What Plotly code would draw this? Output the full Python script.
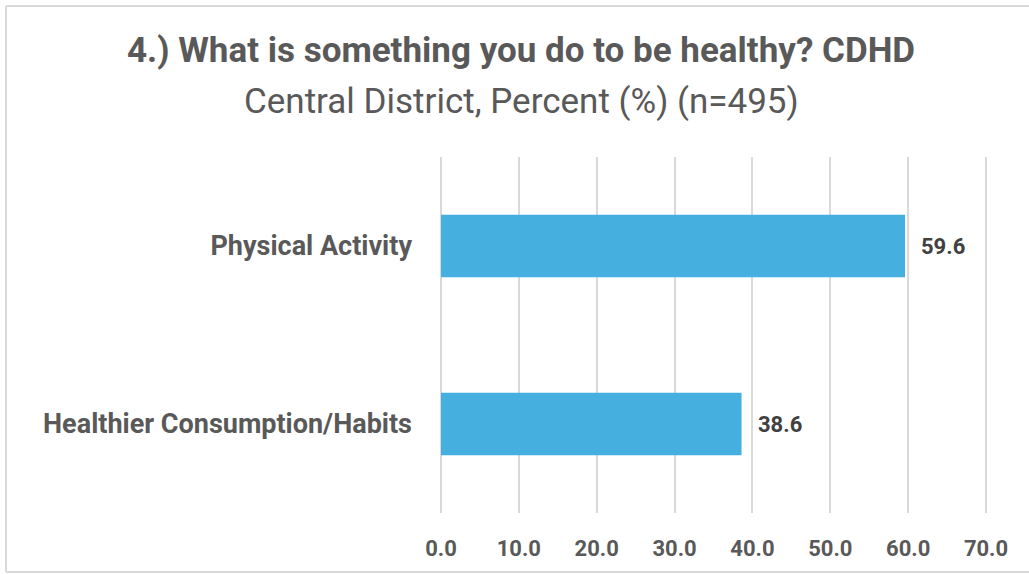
import plotly.graph_objects as go

categories = ["Physical Activity", "Healthier Consumption/Habits"]
values = [59.6, 38.6]
tick_vals = [0, 10, 20, 30, 40, 50, 60, 70]
tick_text = ["0.0", "10.0", "20.0", "30.0", "40.0", "50.0", "60.0", "70.0"]
title_text = "4.) What is something you do to be healthy? CDHD"
subtitle_text = "Central District, Percent (%) (n=495)"

W, H = 1029, 574
L, R, T, B = 441, 41, 157, 61
pw, ph = W - L - R, H - T - B
X_MAX = 70 + 2 / (545 / 70)

TXT = "#595959"
BORDER = "#d9d9d9"

fig = go.Figure(go.Bar(
    y=categories, x=values, orientation="h",
    marker=dict(color="#45AFE0", line=dict(width=0)),
    width=0.35,
    cliponaxis=False,
))

label_annots = [
    dict(x=v, y=c, xref="x", yref="y", text=f"{v:.1f}", showarrow=False,
         xanchor="left", yanchor="middle", xshift=14,
         font=dict(family="Roboto", size=22, color="#404040", weight="bold"))
    for c, v in zip(categories, values)
]

def px_x(p):
    return (p - L) / pw

def px_y(p):
    return (H - B - p) / ph

fig.update_layout(
    width=W, height=H,
    margin=dict(l=L, r=R, t=T, b=B, pad=0),
    paper_bgcolor="white", plot_bgcolor="white",
    showlegend=False,
    xaxis=dict(range=[0, X_MAX], tickvals=tick_vals, ticktext=tick_text,
               showgrid=True, gridcolor=BORDER, gridwidth=2,
               zeroline=True, zerolinecolor=BORDER, zerolinewidth=2,
               showline=False, ticks="", ticklabelstandoff=20,
               tickfont=dict(family="Roboto", size=22, color=TXT, weight="bold")),
    yaxis=dict(autorange="reversed", showgrid=False, zeroline=False, showline=False,
               ticks="", ticklabelstandoff=28,
               tickfont=dict(family="Roboto", size=27, color=TXT, weight="bold")),
    annotations=label_annots + [
        dict(text=title_text, x=px_x(521), y=px_y(50), xref="paper", yref="paper",
             xanchor="center", yanchor="middle", showarrow=False,
             font=dict(family="Roboto", size=35, color=TXT, weight="bold")),
        dict(text=subtitle_text, x=px_x(521), y=px_y(101), xref="paper", yref="paper",
             xanchor="center", yanchor="middle", showarrow=False,
             font=dict(family="Roboto", size=35, color=TXT)),
    ],
    shapes=[
        dict(type="line", xref="paper", yref="paper", x0=px_x(6), x1=px_x(1035),
             y0=px_y(6), y1=px_y(6), line=dict(color=BORDER, width=2), layer="below"),
        dict(type="line", xref="paper", yref="paper", x0=px_x(6), x1=px_x(1035),
             y0=px_y(572), y1=px_y(572), line=dict(color=BORDER, width=2), layer="below"),
        dict(type="line", xref="paper", yref="paper", x0=px_x(6), x1=px_x(6),
             y0=px_y(6), y1=px_y(572), line=dict(color=BORDER, width=2), layer="below"),
    ],
)

fig.write_html("out.html", config={"displayModeBar": False},
               post_script="document.body.style.margin='0';document.body.style.overflow='hidden';")
